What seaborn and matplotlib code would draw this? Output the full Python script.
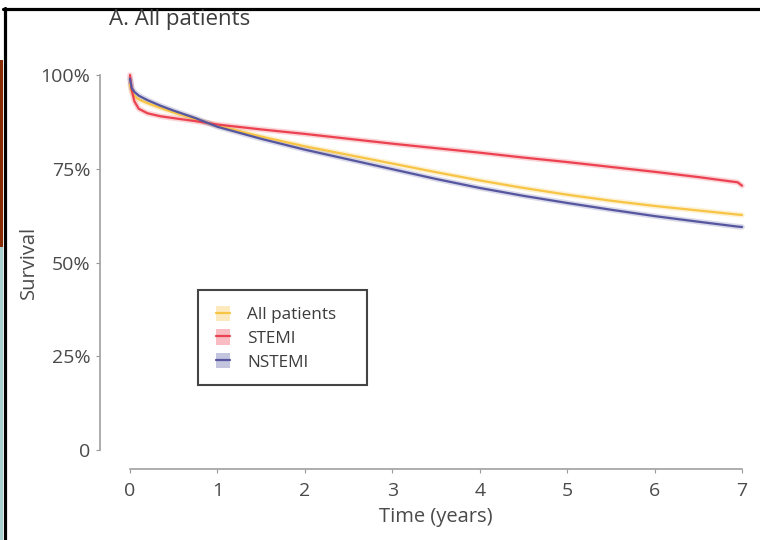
import numpy as np
import pandas as pd
import seaborn as sns
import matplotlib
matplotlib.use("Agg")
import matplotlib.pyplot as plt
from matplotlib.patches import Rectangle, Patch
from matplotlib.lines import Line2D

# survival curves (fraction surviving)
years = [0, 0.02, 0.05, 0.1, 0.2, 0.35, 0.5, 0.75, 1, 1.5, 2, 2.5, 3,
         3.5, 4, 4.5, 5, 5.5, 6, 6.5, 6.95, 7]
all_patients = [0.975, 0.955, 0.945, 0.935, 0.925, 0.912, 0.900, 0.882, 0.865,
                0.836, 0.810, 0.787, 0.764, 0.741, 0.719, 0.699, 0.681, 0.665,
                0.651, 0.639, 0.628, 0.627]
stemi = [1.000, 0.960, 0.930, 0.910, 0.898, 0.890, 0.885, 0.877, 0.868,
         0.855, 0.843, 0.830, 0.817, 0.805, 0.793, 0.780, 0.768, 0.755,
         0.742, 0.728, 0.714, 0.705]
nstemi = [0.990, 0.965, 0.955, 0.945, 0.933, 0.918, 0.905, 0.885, 0.862,
          0.830, 0.801, 0.775, 0.749, 0.723, 0.699, 0.678, 0.659, 0.641,
          0.624, 0.609, 0.596, 0.595]

series = ["All patients", "STEMI", "NSTEMI"]
colors = {"All patients": "#f7c445", "STEMI": "#ec4150", "NSTEMI": "#55569f"}
x_ticks = [0, 1, 2, 3, 4, 5, 6, 7]
y_ticks = [0, 0.25, 0.5, 0.75, 1.0]
y_ticklabels = ["0", "25%", "50%", "75%", "100%"]

data = pd.concat([
    pd.DataFrame({"time": years, "survival": vals, "group": name})
    for name, vals in zip(series, [all_patients, stemi, nstemi])
])

sns.set_style("white")
plt.rcParams["font.family"] = ["Open Sans", "DejaVu Sans"]
text_col = "#4a4a4a"

fig = plt.figure(figsize=(7.6, 5.4), dpi=100)
ax = fig.add_axes([100 / 760, 1 - 469 / 540, 646.4 / 760, (469 - 67.5) / 540])

# soft halo under each curve, then the curve itself
sns.lineplot(data=data, x="time", y="survival", hue="group", hue_order=series,
             palette=colors, linewidth=4.0, alpha=0.22, legend=False, ax=ax)
sns.lineplot(data=data, x="time", y="survival", hue="group", hue_order=series,
             palette=colors, linewidth=1.6, legend=False, ax=ax)

ax.set_xlim(-0.343, 7.05)
ax.set_ylim(-0.05, 1.02)
ax.set_xticks(x_ticks)
ax.set_yticks(y_ticks)
ax.set_yticklabels(y_ticklabels)
ax.tick_params(colors=text_col, labelsize=14, length=3, width=0.8,
               left=True, bottom=True, color="#999999")
ax.tick_params(axis="y", pad=4)
ax.tick_params(axis="x", pad=6)
sns.despine(ax=ax)
for side in ["left", "bottom"]:
    ax.spines[side].set_color("#a0a0a0")
    ax.spines[side].set_linewidth(1.2)
ax.spines["left"].set_bounds(0, 1)
ax.spines["bottom"].set_bounds(0, 7)

# labels centred on the spine bounds rather than the axes box
ax.set_xlabel("Time (years)", fontsize=14.5, color=text_col)
ax.set_ylabel("Survival", fontsize=14.5, color=text_col)
ax.xaxis.set_label_coords(0.52, -0.095)
ax.yaxis.set_label_coords(-0.095, 0.514)

fig.text(109 / 760, 1 - 19 / 540, "A. All patients", fontsize=16,
         color="#3c3c3c", va="center", ha="left")

handles = [(Patch(facecolor=colors[s], alpha=0.35, edgecolor="none"),
            Line2D([], [], color=colors[s], linewidth=1.6)) for s in series]
leg = ax.legend(handles, series, loc="upper left",
                bbox_to_anchor=(209 / 760, 1 - 299 / 540),
                bbox_transform=fig.transFigure, frameon=False,
                fontsize=12.3, handlelength=0.85, handleheight=1.0,
                handletextpad=1.0, labelspacing=0.36, borderpad=0.4,
                borderaxespad=0)
for t in leg.get_texts():
    t.set_color("#3c3c3c")

# legend box drawn to the size seen in the figure
fig.add_artist(Rectangle((198 / 760, 1 - 385 / 540), 169 / 760, 95 / 540,
                         transform=fig.transFigure, facecolor="none",
                         edgecolor="#444444", lw=1.5))

# slide framing around the figure
fig.add_artist(Rectangle((0, 1 - 540 / 540), 3 / 760, (540 - 247) / 540,
                         transform=fig.transFigure, color="#a9d1cf", lw=0))
fig.add_artist(Rectangle((0, 1 - 247 / 540), 3 / 760, (247 - 60) / 540,
                         transform=fig.transFigure, color="#8a2c02", lw=0))
fig.add_artist(Line2D([4.5 / 760, 4.5 / 760], [0, 1 - 8 / 540],
                      transform=fig.transFigure, color="black", lw=2.3))
fig.add_artist(Line2D([3.5 / 760, 1], [1 - 8.5 / 540, 1 - 8.5 / 540],
                      transform=fig.transFigure, color="black", lw=2.3))

fig.savefig("out.png", dpi=100)
